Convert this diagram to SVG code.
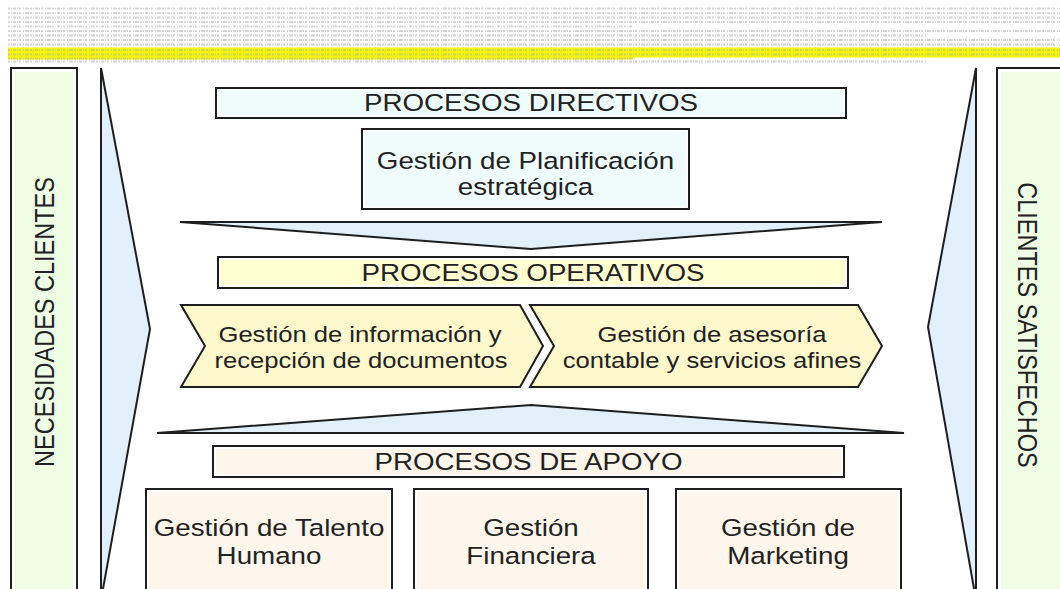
<svg xmlns="http://www.w3.org/2000/svg" width="1060" height="589" viewBox="0 0 1060 589">
<defs>
<style>
.frame{fill:#fff;stroke:#1e1e1e;stroke-width:2}
.ln{stroke:#1e1e1e;stroke-width:2;fill:none}
.fun{fill:#e2f0fb;stroke:#1e1e1e;stroke-width:2;stroke-linejoin:miter}
.chev{fill:#fdf9cd;stroke:#1e1e1e;stroke-width:2;stroke-linejoin:miter}
.t{font-family:"Liberation Sans",Arial,sans-serif;font-size:23.5px;fill:#222;text-anchor:middle}
.c{font-size:21.7px}
.noise{stroke:#b4b4b4;stroke-width:2;stroke-dasharray:2 1 1 1 3 1 1 1 2 2 1 1 4 1;opacity:.55;fill:none}
</style>
</defs>
<rect width="1060" height="589" fill="#fff"/>
<g id="page-text">
<rect x="8" y="47.5" width="1052" height="10" fill="#f6f600"/>
<rect x="8" y="57" width="625" height="2.5" fill="#f6f600"/>
<path class="noise" d="M8 8.5H1060M8 13H1060M8 17.5H1060M8 22H1060M8 26.5H633M8 31H1060M8 35.5H927M8 40H1060M8 44.5H1060M8 50H1060M8 54.5H1060M8 58.5H633M8 61.5H927"/>
</g>
<g id="connectors">
<path class="fun" d="M101 68 L150 329 L101 600 Z"/>
<line class="ln" x1="101" y1="68" x2="101" y2="600"/>
<path class="fun" d="M976 68 L928 327 L976 600 Z"/>
<line class="ln" x1="976" y1="68" x2="976" y2="600"/>
<path class="fun" d="M180 222 H882 L531 249 Z"/>
<path class="fun" d="M157 433 H904 L531 405 Z"/>
</g>
<g id="necesidades-clientes">
<rect class="frame" x="11" y="68" width="66" height="540"/>
<rect x="15" y="72" width="58" height="540" fill="#effde5"/>
<text class="t" transform="translate(44,322) rotate(-90) scale(1,1.18)" y="8.4">NECESIDADES CLIENTES</text>
</g>
<g id="clientes-satisfechos">
<rect class="frame" x="997" y="68" width="80" height="540"/>
<rect x="1001" y="72" width="80" height="540" fill="#effde5"/>
<text class="t" transform="translate(1028,325) rotate(90) scale(1,1.18)" y="8.4">CLIENTES SATISFECHOS</text>
</g>
<g id="procesos-directivos">
<rect class="frame" x="216" y="88" width="630" height="30"/>
<rect x="219" y="91" width="624" height="24" fill="#effcfc"/>
<text class="t" transform="translate(531,111) scale(1.18,1)">PROCESOS DIRECTIVOS</text>
</g>
<g id="planificacion">
<rect class="frame" x="362" y="129" width="327" height="80"/>
<rect x="365" y="132" width="321" height="74" fill="#f0fcfc"/>
<text class="t" transform="translate(525.5,169) scale(1.18,1)">Gestión de Planificación</text>
<text class="t" transform="translate(525.5,195) scale(1.18,1)">estratégica</text>
</g>
<g id="procesos-operativos">
<rect class="frame" x="218" y="257" width="630" height="31"/>
<rect x="221" y="260" width="624" height="25" fill="#ffffd2"/>
<text class="t" transform="translate(533,281) scale(1.18,1)">PROCESOS OPERATIVOS</text>
</g>
<g id="informacion">
<path class="chev" d="M181 305 H520 L543 346 L520 387 H181 L205 346 Z"/>
<text class="t c" transform="translate(360,342) scale(1.18,1)">Gestión de información y</text>
<text class="t c" transform="translate(361,368) scale(1.18,1)">recepción de documentos</text>
</g>
<g id="asesoria">
<path class="chev" d="M530 305 H858 L882 346 L858 387 H530 L554 346 Z"/>
<text class="t c" transform="translate(712,342) scale(1.18,1)">Gestión de asesoría</text>
<text class="t c" transform="translate(712,368) scale(1.18,1)">contable y servicios afines</text>
</g>
<g id="procesos-apoyo">
<rect class="frame" x="213" y="446" width="631" height="31"/>
<rect x="216" y="449" width="625" height="25" fill="#fdf6ea"/>
<text class="t" transform="translate(528.5,470) scale(1.18,1)">PROCESOS DE APOYO</text>
</g>
<g id="talento-humano">
<rect class="frame" x="146" y="489" width="246" height="120"/>
<rect x="149" y="492" width="240" height="120" fill="#fdf6ec"/>
<text class="t" transform="translate(269,536) scale(1.18,1)">Gestión de Talento</text>
<text class="t" transform="translate(269,564) scale(1.18,1)">Humano</text>
</g>
<g id="financiera">
<rect class="frame" x="414" y="489" width="234" height="120"/>
<rect x="417" y="492" width="228" height="120" fill="#fdf6ec"/>
<text class="t" transform="translate(531,536) scale(1.18,1)">Gestión</text>
<text class="t" transform="translate(531,564) scale(1.18,1)">Financiera</text>
</g>
<g id="marketing">
<rect class="frame" x="676" y="489" width="225" height="120"/>
<rect x="679" y="492" width="219" height="120" fill="#fdf6ec"/>
<text class="t" transform="translate(788,536) scale(1.18,1)">Gestión de</text>
<text class="t" transform="translate(788,564) scale(1.18,1)">Marketing</text>
</g>
</svg>
